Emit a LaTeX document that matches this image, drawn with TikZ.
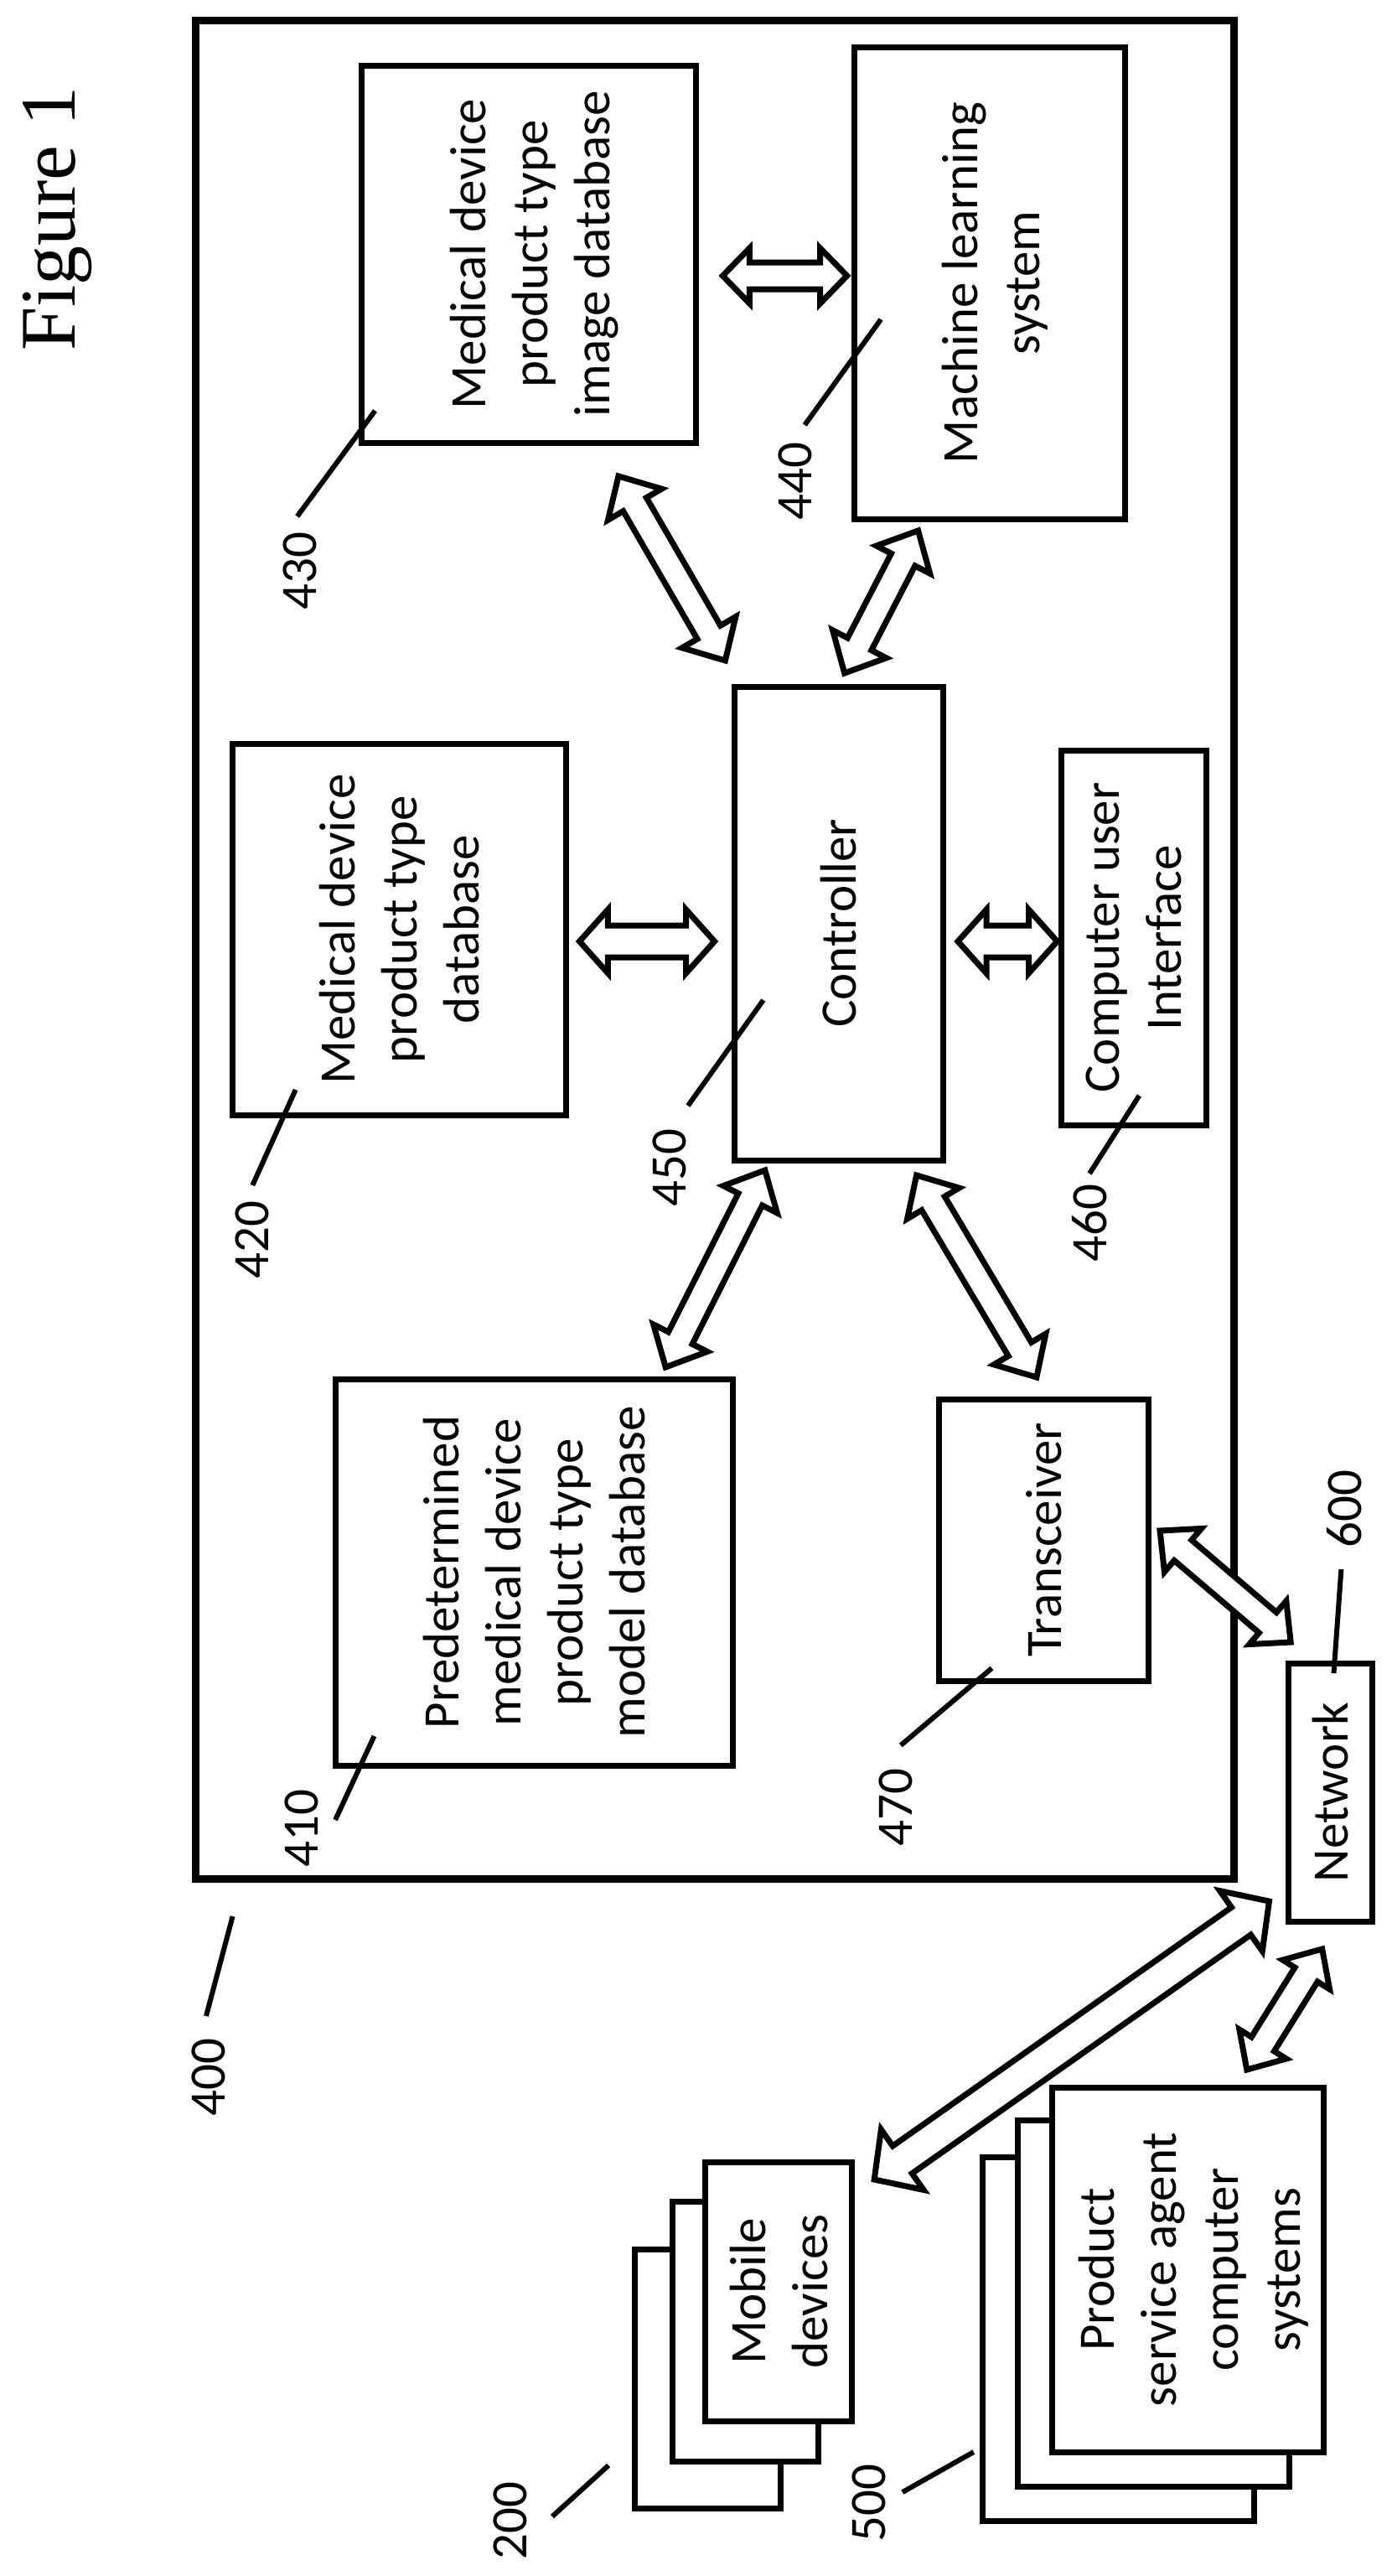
\documentclass[tikz,border=0pt]{standalone}
\usepackage{fontspec}
\setmainfont{Carlito}
\newfontfamily\titlefont{Liberation Serif}
\usetikzlibrary{calc}
\newcommand{\topgap}{\rule{0pt}{55pt}}
\tikzset{
  box/.style={draw, fill=white, line width=7pt, rotate=90, align=center, inner sep=0pt, outer sep=0pt},
  reflabel/.style={rotate=90, inner sep=0pt},
  refline/.style={line width=6pt},
  dblarrow/.style n args={3}{draw, fill=white, line width=7pt, miter limit=6, to path={
    -- ($(\tikztostart)!#1!(\tikztotarget)!#2!90:(\tikztotarget)$)
    -- ($(\tikztostart)!#1!(\tikztotarget)!#3!90:(\tikztotarget)$)
    -- ($(\tikztotarget)!#1!(\tikztostart)!#3!-90:(\tikztostart)$)
    -- ($(\tikztotarget)!#1!(\tikztostart)!#2!-90:(\tikztostart)$)
    -- (\tikztotarget)
    -- ($(\tikztotarget)!#1!(\tikztostart)!#2!90:(\tikztostart)$)
    -- ($(\tikztotarget)!#1!(\tikztostart)!#3!90:(\tikztostart)$)
    -- ($(\tikztostart)!#1!(\tikztotarget)!#3!-90:(\tikztotarget)$)
    -- ($(\tikztostart)!#1!(\tikztotarget)!#2!-90:(\tikztotarget)$)
    -- cycle}}
}
\begin{document}
\begin{tikzpicture}[x=.9879pt, y=-1pt, font=\fontsize{61}{74}\selectfont]
  \useasboundingbox (0,0) rectangle (1680.33,3073);
  \node [rotate=90, anchor=base, inner sep=0pt, font=\titlefont\fontsize{94}{110}\selectfont]
  (title) at (91,261) {Figure 1};
  \node [draw, line width=9pt, minimum width=1239pt, minimum height=2217pt, inner sep=0pt]
  (sys) at (863,1132.5) {};

  % boxes, width and height are swapped by the rotation
  \node [box, minimum width=450pt, minimum height=399pt] (imagedb) at (639,303)
  {\topgap Medical device\\product type\\image database};
  \node [box, minimum width=563pt, minimum height=323pt] (learning) at (1195.5,337.5)
  {\topgap Machine learning\\system};
  \node [box, minimum width=443pt, minimum height=398pt] (typedb) at (482.5,1108.5)
  {Medical device\\product type\\database};
  \node [box, minimum width=565pt, minimum height=249pt] (ctrl) at (1013,1101.5)
  {Controller};
  \node [box, minimum width=447pt, minimum height=173pt] (ui) at (1369.5,1118.5)
  {Computer user\\Interface};
  \node [box, minimum width=461pt, minimum height=474pt] (modeldb) at (645,1875.5)
  {Predetermined\\medical device\\product type\\model database};
  \node [box, minimum width=336pt, minimum height=250pt] (trx) at (1260.5,1837)
  {Transceiver};
  \node [box, minimum width=308pt, minimum height=100pt] (net) at (1606.5,2138)
  {Network};

  % stacks, back to front
  \node [box, minimum width=309pt, minimum height=174pt] (mobilec) at (855,2837.5) {};
  \node [box, minimum width=310pt, minimum height=174pt] (mobileb) at (900,2781) {};
  \node [box, minimum width=309pt, minimum height=175pt] (mobile) at (940.5,2733.5)
  {Mobile\\devices};
  \node [box, minimum width=434pt, minimum height=324pt] (agentc) at (1351,2790) {};
  \node [box, minimum width=437pt, minimum height=324pt] (agentb) at (1393,2747.5) {};
  \node [box, minimum width=435pt, minimum height=324pt] (agent) at (1435,2707.5)
  {\topgap Product\\service agent\\computer\\systems};

  % block arrows
  \draw [dblarrow={32pt}{33pt}{16pt}] ($(imagedb.south)+(32,26)$) to ($(learning.north)+(-9,-8.5)$);
  \draw [dblarrow={39pt}{37pt}{16pt}] ($(imagedb.west)+(108,40)$) to ($(ctrl.east)+(-137,-31)$);
  \draw [dblarrow={39pt}{36pt}{16pt}] ($(learning.west)+(-86.5,14)$) to ($(ctrl.east)+(7,-16)$);
  \draw [dblarrow={34pt}{38pt}{19pt}] ($(typedb.south)+(16,14.5)$) to ($(ctrl.north)+(-24,21.5)$);
  \draw [dblarrow={34pt}{38pt}{19pt}] ($(ctrl.south)+(18,21.5)$) to ($(ui.north)+(-5,4.5)$);
  \draw [dblarrow={39pt}{36pt}{16pt}] ($(ctrl.west)+(-89,12)$) to ($(modeldb.east)+(159,-14)$);
  \draw [dblarrow={39pt}{36pt}{16pt}] ($(ctrl.west)+(94,18)$) to ($(trx.east)+(-8.5,-26)$);
  \draw [dblarrow={36pt}{34pt}{16pt}] ($(trx.south)+(14,-11)$) to ($(net.east)+(-47.5,-25)$);
  \draw [dblarrow={41pt}{44pt}{20pt}] ($(net.west)+(-73.5,-24)$) to ($(mobile.east)+(115.5,21)$);
  \draw [dblarrow={36pt}{33pt}{16pt}] ($(net.west)+(-9.5,33)$) to ($(agent.east)+(71,-21)$);

  % reference numbers
  \node [reflabel] (n430) at (362,681) {430};
  \node [reflabel] (n440) at (961,574) {440};
  \node [reflabel] (n450) at (809,1393) {450};
  \node [reflabel] (n420) at (305,1479) {420};
  \node [reflabel] (n460) at (1316,1459) {460};
  \node [reflabel] (n470) at (1082,2156) {470};
  \node [reflabel] (n410) at (364,2181) {410};
  \node [reflabel] (n400) at (252,2478) {400};
  \node [reflabel] (n600) at (1624,1800) {600};
  \node [reflabel] (n200) at (616,3007) {200};
  \node [reflabel] (n500) at (1050,2986) {500};

  \path (453,490) coordinate (a430) (359,616) coordinate (b430);
  \path (1064,381) coordinate (a440) (972,507) coordinate (b440);
  \path (922,1193) coordinate (a450) (831,1319) coordinate (b450);
  \path (357,1300) coordinate (a420) (305,1414) coordinate (b420);
  \path (1376,1307) coordinate (a460) (1316,1400) coordinate (b460);
  \path (1198,1990) coordinate (a470) (1088,2082) coordinate (b470);
  \path (452,2071) coordinate (a410) (405,2171) coordinate (b410);
  \path (281,2286) coordinate (a400) (249,2405) coordinate (b400);
  \path (1611,1996) coordinate (a600) (1620,1872) coordinate (b600);
  \path (735,2941) coordinate (a200) (667,3002) coordinate (b200);
  \path (1176,2925) coordinate (a500) (1090,2973) coordinate (b500);
  \draw [refline] (a430) -- (b430);
  \draw [refline] (a440) -- (b440);
  \draw [refline] (a450) -- (b450);
  \draw [refline] (a420) -- (b420);
  \draw [refline] (a460) -- (b460);
  \draw [refline] (a470) -- (b470);
  \draw [refline] (a410) -- (b410);
  \draw [refline] (a400) -- (b400);
  \draw [refline] (a600) -- (b600);
  \draw [refline] (a200) -- (b200);
  \draw [refline] (a500) -- (b500);
\end{tikzpicture}
\end{document}
